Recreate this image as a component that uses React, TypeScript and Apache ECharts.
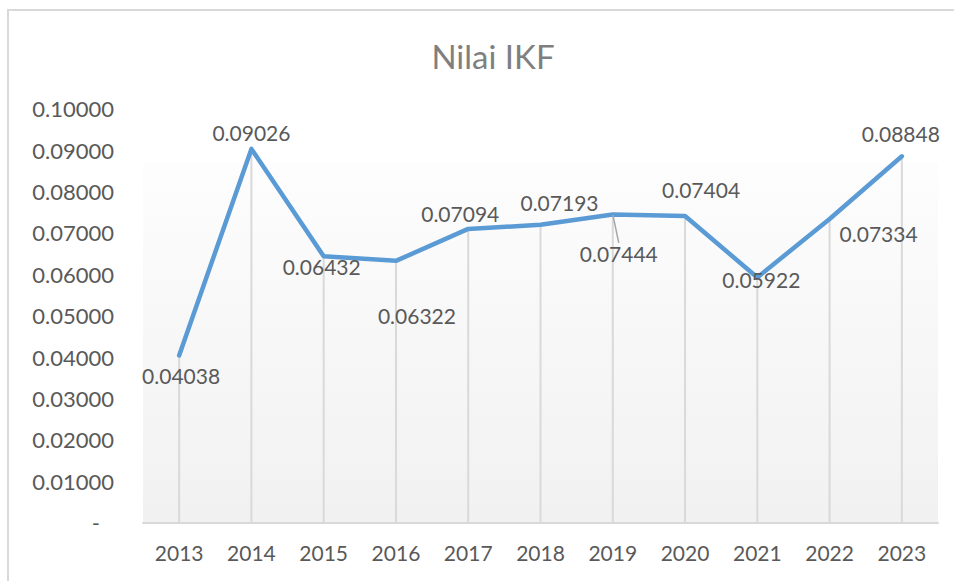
import React, { useEffect, useRef } from "react";
import * as echarts from "echarts";

const years = ["2013", "2014", "2015", "2016", "2017", "2018", "2019", "2020", "2021", "2022", "2023"];
const ikf = [0.04038, 0.09026, 0.06432, 0.06322, 0.07094, 0.07193, 0.07444, 0.07404, 0.05922, 0.07334, 0.08848];
const labelOffsets: number[][] = [
  [2, 20], [0, -16], [-2, 10], [21, 55], [-8, -15], [19, -22], [6, 39], [16, -27], [4, 2], [49, 15], [-1, -23],
];

const FONT = "Lato, 'Open Sans', sans-serif";
const GRAY = "#595959";

export default function App() {
  const ref = useRef<HTMLDivElement>(null);
  useEffect(() => {
    document.body.style.margin = "0";
    const chart = echarts.init(ref.current!, null, { renderer: "svg" });
    chart.setOption({
      animation: false,
      backgroundColor: "#ffffff",
      title: {
        text: "Nilai IKF",
        left: 488,
        top: 34,
        textAlign: "center",
        textStyle: { fontFamily: FONT, fontSize: 33, fontWeight: "normal", color: "#7f7f7f" },
      },
      graphic: [
        {
          type: "rect",
          shape: { x: 8, y: 10, width: 980, height: 600 },
          style: { fill: "none", stroke: "#d9d9d9", lineWidth: 2 },
          silent: true,
          z: -10,
        },
      ],
      grid: {
        left: 143,
        right: 16,
        top: 108.6,
        bottom: 58.4,
        show: true,
        borderWidth: 0,
        backgroundColor: {
          type: "linear",
          x: 0, y: 0, x2: 0, y2: 1,
          colorStops: [
            { offset: 0, color: "#ffffff" },
            { offset: 0.13, color: "#ffffff" },
            { offset: 0.132, color: "#fdfdfd" },
            { offset: 1, color: "#f1f1f1" },
          ],
        },
      },
      xAxis: {
        type: "category",
        data: years,
        boundaryGap: true,
        axisLine: { show: true, lineStyle: { color: "#d9d9d9", width: 2 } },
        axisTick: { show: false },
        splitLine: { show: false },
        axisLabel: { color: GRAY, fontFamily: FONT, fontSize: 21, margin: 19 },
      },
      yAxis: {
        type: "value",
        min: 0,
        max: 0.1,
        interval: 0.01,
        axisLine: { show: false },
        axisTick: { show: false },
        splitLine: { show: false },
        axisLabel: {
          color: GRAY,
          fontFamily: FONT,
          fontSize: 22,
          margin: 29,
          formatter: (v: number) => (Math.abs(v) < 1e-9 ? "{d|-}" : v.toFixed(5)),
          rich: { d: { color: GRAY, fontFamily: FONT, fontSize: 22, padding: [0, 14, 0, 0] } },
        },
      },
      series: [
        {
          type: "bar",
          data: ikf,
          barWidth: 2,
          itemStyle: { color: "#d9d9d9" },
          silent: true,
          z: 1,
        },
        {
          type: "line",
          data: ikf.map((v, i) => (i === 6 ? { value: v, labelLine: { show: true, lineStyle: { color: "#a6a6a6", width: 1.5 } } } : v)),
          z: 5,
          symbol: "circle",
          symbolSize: 1,
          itemStyle: { color: "#5b9bd5" },
          lineStyle: { color: "#5b9bd5", width: 4.5, cap: "round", join: "round" },
          label: {
            show: true,
            position: "inside",
            color: GRAY,
            fontFamily: FONT,
            fontSize: 21,
            formatter: (p: any) => Number(p.value).toFixed(5),
          },
          labelLine: { show: false },
          labelLayout: (p: any) => ({ dx: labelOffsets[p.dataIndex][0], dy: labelOffsets[p.dataIndex][1] }),
        },
      ],
    });
    return () => chart.dispose();
  }, []);
  return <div ref={ref} style={{ width: 954, height: 581 }} />;
}
